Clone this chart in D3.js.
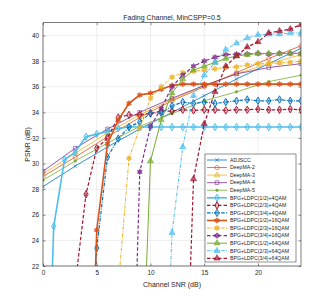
<!DOCTYPE html>
<html>
<head>
<meta charset="utf-8">
<script src="https://cdn.jsdelivr.net/npm/d3@7"></script>
<style>
  body { margin: 0; background: #fff; }
  text { font-family: "Liberation Sans", Arial, sans-serif; fill: #262626; }
</style>
</head>
<body>
<div id="chart"></div>
<script>
/* DATA */
var snrCoarse = [0, 3, 6, 9, 12, 15, 18, 21, 24];
var snrFine = [0, 1, 2, 3, 4, 5, 6, 7, 8, 9, 10, 11, 12, 13, 14, 15, 16, 17, 18, 19, 20, 21, 22, 23, 24];

var adjscc  = [28.2, 29.8, 31.3, 32.7, 34.0, 35.3, 36.6, 37.8, 39.0];
var deepma2 = [29.0, 30.5, 32.1, 33.6, 34.9, 36.0, 37.1, 38.2, 39.2];
var deepma3 = [29.2, 30.8, 32.4, 33.8, 35.0, 36.1, 37.0, 37.8, 38.5];
var deepma4 = [29.4, 31.2, 32.7, 34.0, 35.1, 36.1, 37.0, 37.5, 37.8];
var deepma5 = [28.7, 30.2, 31.6, 32.9, 33.9, 34.9, 35.6, 36.4, 36.9];

/* BPG+LDPC curves on the 1 dB grid, null = not plotted */
var bpg12q4  = [0, 25.1, 30.3, 30.9, 32.1, 32.3, 32.5, 32.75, 32.85, 32.85, 32.85, 32.85, 32.85, 32.85, 32.85, 32.85, 32.85, 32.85, 32.85, 32.85, 32.85, 32.85, 32.85, 32.85, 32.85];
var bpg23q4  = [null, null, null, 20.6, 27.6, 31.2, 32.0, 33.6, 33.8, 33.8, 33.9, 34.1, 34.1, 34.2, 34.15, 34.2, 34.2, 34.15, 34.2, 34.2, 34.25, 34.2, 34.2, 34.25, 34.2];
var bpg34q4  = [null, null, null, null, 0, 23.4, 30.5, 31.95, 32.85, 33.25, 33.95, 33.95, 34.5, 34.8, 34.7, 34.8, 34.7, 34.8, 34.9, 35.0, 34.9, 34.9, 35.0, 34.9, 34.9];
var bpg12q16 = [null, null, null, null, 0, 24.8, 31.55, 33.4, 34.7, 35.35, 35.5, 35.8, 36.1, 36.2, 36.2, 36.2, 36.2, 36.2, 36.2, 36.2, 36.2, 36.2, 36.2, 36.2, 36.2];
var bpg23q16 = [null, null, null, null, null, null, null, 20.4, 30.4, 32.8, 35.1, 36.0, 36.75, 37.1, 37.2, 37.3, 37.4, 37.5, 37.55, 37.7, 37.8, 37.8, 37.85, 37.9, 38.0];
var bpg34q16 = [null, null, null, null, null, null, null, null, 0, 29.35, 32.9, 34.3, 36.0, 36.9, 37.6, 38.0, 38.3, 38.5, 38.55, 38.55, 38.6, 38.55, 38.6, 38.6, 38.6];
var bpg12q64 = [null, null, null, null, null, null, null, null, null, 8, 30.2, 33.4, 35.5, 36.6, 37.3, 37.6, 37.9, 38.2, 38.4, 38.5, 38.6, 38.6, 38.6, 38.6, 38.6];
var bpg23q64 = [null, null, null, null, null, null, null, null, null, null, null, 2, 24.6, 31.3, 35.3, 36.9, 37.9, 38.9, 39.4, 39.8, 40.05, 40.1, 40.1, 40.2, 40.2];
var bpg34q64 = [null, null, null, null, null, null, null, null, null, null, null, null, null, 4, 28.8, 33.1, 35.6, 37.6, 38.4, 39.1, 39.5, 40.2, 40.35, 40.5, 40.85];

var legendNames = ["ADJSCC", "DeepMA-2", "DeepMA-3", "DeepMA-4", "DeepMA-5",
  "BPG+LDPC(1/2)+4QAM", "BPG+LDPC(2/3)+4QAM", "BPG+LDPC(3/4)+4QAM",
  "BPG+LDPC(1/2)+16QAM", "BPG+LDPC(2/3)+16QAM", "BPG+LDPC(3/4)+16QAM",
  "BPG+LDPC(1/2)+64QAM", "BPG+LDPC(2/3)+64QAM", "BPG+LDPC(3/4)+64QAM"];
var yTicks = [22, 24, 26, 28, 30, 32, 34, 36, 38, 40];
var xTicks = [0, 5, 10, 15, 20];

/* MATLAB default colours */
var c = { blue: "#0072BD", orange: "#D95319", yellow: "#EDB120", purple: "#7E2F8E",
          green: "#77AC30", cyan: "#4DBEEE", red: "#A2142F" };

var DASH = "3.5,2", DASHDOT = "3.5,1.3,1,1.3";

var series = [
  { x: snrCoarse, y: adjscc,   color: c.blue,   marker: "x",   dash: null, w: 0.8 },
  { x: snrCoarse, y: deepma2,  color: c.orange, marker: "o",   dash: null, w: 0.8 },
  { x: snrCoarse, y: deepma3,  color: c.yellow, marker: "^",   dash: null, w: 0.8 },
  { x: snrCoarse, y: deepma4,  color: c.purple, marker: "s",   dash: null, w: 0.8 },
  { x: snrCoarse, y: deepma5,  color: c.green,  marker: ".",   dash: null, w: 0.8 },
  { x: snrFine, y: bpg12q4,  color: c.cyan,   marker: "d", dash: null,    w: 1.6 },
  { x: snrFine, y: bpg23q4,  color: c.red,    marker: "d", dash: DASH,    w: 1.2 },
  { x: snrFine, y: bpg34q4,  color: c.blue,   marker: "d", dash: DASHDOT, w: 1.2 },
  { x: snrFine, y: bpg12q16, color: c.orange, marker: "h", dash: null,    w: 1.6 },
  { x: snrFine, y: bpg23q16, color: c.yellow, marker: "h", dash: DASHDOT, w: 1.0 },
  { x: snrFine, y: bpg34q16, color: c.purple, marker: "h", dash: DASH,    w: 1.2 },
  { x: snrFine, y: bpg12q64, color: c.green,  marker: "t", dash: null,    w: 1.0 },
  { x: snrFine, y: bpg23q64, color: c.cyan,   marker: "t", dash: DASHDOT, w: 1.0 },
  { x: snrFine, y: bpg34q64, color: c.red,    marker: "t", dash: DASH,    w: 1.2 }
];

var W = 332, H = 299;
var plot = { left: 43, right: 301, top: 22.7, bottom: 266 };

var svg = d3.select("#chart").append("svg")
  .attr("width", W).attr("height", H);

var x = d3.scaleLinear().domain([0, 24]).range([plot.left, plot.right]);
var y = d3.scaleLinear().domain([22, 41]).range([plot.bottom, plot.top]);

/* grid lines */
svg.append("g").selectAll("line").data(xTicks).enter().append("line")
  .attr("x1", d => x(d)).attr("x2", d => x(d))
  .attr("y1", plot.top).attr("y2", plot.bottom)
  .attr("stroke", "#e3e3e3").attr("stroke-width", 0.6);
svg.append("g").selectAll("line").data(yTicks).enter().append("line")
  .attr("y1", d => y(d)).attr("y2", d => y(d))
  .attr("x1", plot.left).attr("x2", plot.right)
  .attr("stroke", "#e3e3e3").attr("stroke-width", 0.6);

/* axes, MATLAB style inward ticks */
var axFont = "6.4px";
svg.append("g").attr("transform", "translate(0," + plot.bottom + ")")
  .call(d3.axisBottom(x).tickValues(xTicks).tickSizeInner(-2.5).tickSizeOuter(0).tickPadding(4))
  .call(g => g.select(".domain").remove());
svg.append("g").attr("transform", "translate(0," + plot.top + ")")
  .call(d3.axisTop(x).tickValues(xTicks).tickSizeInner(-2.5).tickSizeOuter(0).tickFormat(""))
  .call(g => g.select(".domain").remove());
svg.append("g").attr("transform", "translate(" + plot.left + ",0)")
  .call(d3.axisLeft(y).tickValues(yTicks).tickSizeInner(-2.5).tickSizeOuter(0).tickPadding(4))
  .call(g => g.select(".domain").remove());
svg.append("g").attr("transform", "translate(" + plot.right + ",0)")
  .call(d3.axisRight(y).tickValues(yTicks).tickSizeInner(-2.5).tickSizeOuter(0).tickFormat(""))
  .call(g => g.select(".domain").remove());
svg.selectAll(".tick line").attr("stroke", "#262626").attr("stroke-width", 0.5);
svg.selectAll(".tick text").style("font-size", axFont)
  .style("font-family", "'Liberation Sans', Arial, sans-serif").attr("fill", "#262626");

/* clip to the axes box */
svg.append("clipPath").attr("id", "clip").append("rect")
  .attr("x", plot.left).attr("y", plot.top)
  .attr("width", plot.right - plot.left).attr("height", plot.bottom - plot.top);

/* hexagram path */
function hexagram(r) {
  var p = [];
  for (var i = 0; i < 12; i++) {
    var a = -Math.PI / 2 + i * Math.PI / 6;
    var rr = (i % 2 === 0) ? r : r * 0.58;
    p.push([rr * Math.cos(a), rr * Math.sin(a)]);
  }
  return "M" + p.map(d => d[0].toFixed(2) + "," + d[1].toFixed(2)).join("L") + "Z";
}

/* draws one marker into g */
function drawMarker(g, type, color, cx, cy) {
  var m = g.append("path").attr("transform", "translate(" + cx + "," + cy + ")")
    .attr("stroke", color).attr("stroke-width", 0.6);
  if (type === "x") {
    m.attr("d", "M-1.8,-1.8L1.8,1.8M-1.8,1.8L1.8,-1.8").attr("fill", "none");
  } else if (type === "o") {
    m.attr("d", d3.symbol(d3.symbolCircle, 14)()).attr("fill", "none");
  } else if (type === "^") {
    m.attr("d", d3.symbol(d3.symbolTriangle, 14)()).attr("fill", color).attr("fill-opacity", 0.35);
  } else if (type === "s") {
    m.attr("d", d3.symbol(d3.symbolSquare, 14)()).attr("fill", "none");
  } else if (type === ".") {
    m.attr("d", d3.symbol(d3.symbolCircle, 5)()).attr("fill", color);
  } else if (type === "d") {
    m.attr("d", d3.symbol(d3.symbolDiamond, 16)()).attr("fill", color).attr("fill-opacity", 0.3)
      .attr("stroke-width", 0.9);
  } else if (type === "h") {
    m.attr("d", hexagram(2.8)).attr("fill", color).attr("fill-opacity", 0.8);
  } else if (type === "t") {
    m.attr("d", d3.symbol(d3.symbolTriangle, 16)()).attr("fill", color).attr("fill-opacity", 0.7);
  }
}

var line = d3.line()
  .defined(d => d[1] !== null)
  .x(d => x(d[0])).y(d => y(d[1]));

var plotG = svg.append("g").attr("clip-path", "url(#clip)");

series.forEach(function (s) {
  var pts = s.x.map((v, i) => [v, s.y[i]]);
  plotG.append("path")
    .attr("d", line(pts))
    .attr("fill", "none")
    .attr("stroke", s.color)
    .attr("stroke-width", s.w)
    .attr("stroke-dasharray", s.dash);
  var mg = plotG.append("g");
  pts.filter(d => d[1] !== null && d[1] >= 22).forEach(function (d) {
    drawMarker(mg, s.marker, s.color, x(d[0]), y(d[1]));
  });
});

/* axes box */
svg.append("rect")
  .attr("x", plot.left).attr("y", plot.top)
  .attr("width", plot.right - plot.left).attr("height", plot.bottom - plot.top)
  .attr("fill", "none").attr("stroke", "#262626").attr("stroke-width", 0.6);

/* title and labels */
svg.append("text").attr("x", (plot.left + plot.right) / 2).attr("y", 20)
  .attr("text-anchor", "middle").style("font-size", "7px")
  .text("Fading Channel, MinCSPP=0.5");
svg.append("text").attr("x", (plot.left + plot.right) / 2).attr("y", 287)
  .attr("text-anchor", "middle").style("font-size", "7px")
  .text("Channel SNR (dB)");
svg.append("text")
  .attr("transform", "translate(30," + ((plot.top + plot.bottom) / 2) + ") rotate(-90)")
  .attr("text-anchor", "middle").style("font-size", "7px")
  .text("PSNR (dB)");

/* legend */
var lg = { x: 205, y: 154, w: 91, h: 108, step: 7.56 };
var legend = svg.append("g");
legend.append("rect").attr("x", lg.x).attr("y", lg.y).attr("width", lg.w).attr("height", lg.h)
  .attr("fill", "#fff").attr("stroke", "#262626").attr("stroke-width", 0.5);
series.forEach(function (s, i) {
  var ly = lg.y + 6 + i * lg.step;
  legend.append("line").attr("x1", lg.x + 2).attr("x2", lg.x + 22)
    .attr("y1", ly).attr("y2", ly)
    .attr("stroke", s.color).attr("stroke-width", s.w)
    .attr("stroke-dasharray", s.dash);
  drawMarker(legend, s.marker, s.color, lg.x + 12, ly);
  legend.append("text").attr("x", lg.x + 25).attr("y", ly + 1.8)
    .style("font-size", "5.2px").text(legendNames[i]);
});
</script>
</body>
</html>
